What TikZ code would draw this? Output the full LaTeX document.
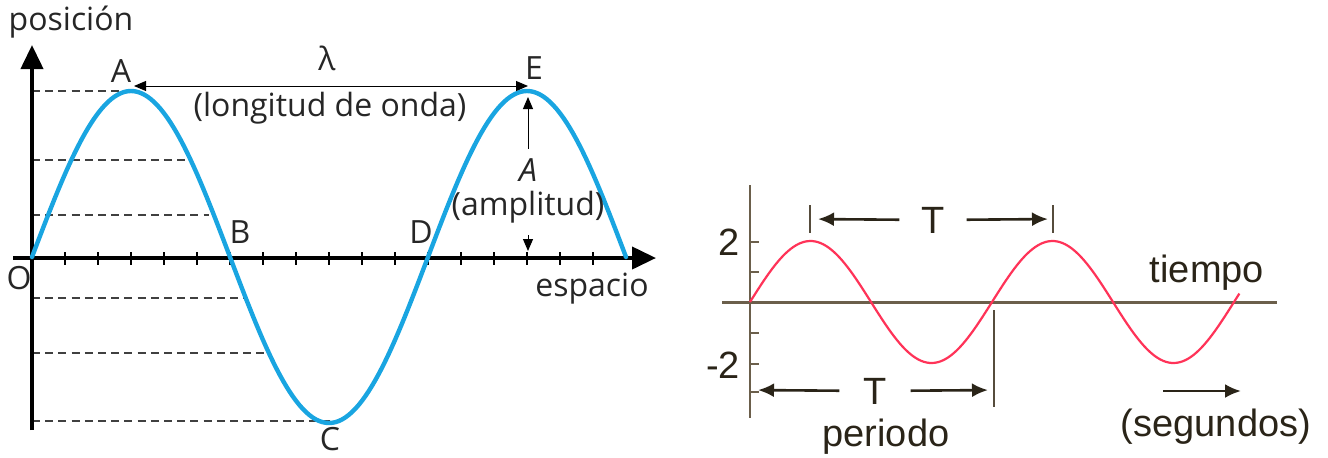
\documentclass[tikz,border=0pt]{standalone}
\usepackage{fontspec}
\setmainfont{Open Sans}
\newfontfamily\graphfont{Liberation Sans}
\usetikzlibrary{arrows.meta,positioning}

\definecolor{waveblue}{HTML}{19A5E1}
\definecolor{wavered}{HTML}{FF3358}
\definecolor{axisbrown}{HTML}{6B5F4B}
\definecolor{textdark}{HTML}{2A2418}

\begin{document}
\begin{tikzpicture}[
  x=0.5pt, y=-0.5pt,
  lbl/.style={font=\fontsize{16}{18}\selectfont, text=black!85, inner sep=0pt},
  rlbl/.style={font=\graphfont\fontsize{19}{21}\selectfont, text=textdark, inner sep=0pt},
  axisline/.style={line width=2pt, -{Triangle[length=12pt,width=11pt]}},
  guide/.style={line width=0.6pt, dash pattern=on 4pt off 2.6pt, black!75},
  dim/.style={line width=0.5pt, -{Triangle[length=6pt,width=5pt]}},
  tarr/.style={line width=1.3pt, textdark, -{Latex[length=8pt,width=7pt]}},
  bar/.style={line width=1pt, axisbrown!80!black}]
\useasboundingbox (0,0) rectangle (1328,457);

\coordinate (orig) at (32,258);
\coordinate (peakA) at (132,91);
\coordinate (peakE) at (528,97);
\coordinate (lamL) at (134,86);
\coordinate (lamR) at (528,86);
\coordinate (axisE) at (528,251);

\foreach \yy/\xx in {91/132, 160/190, 215/209, 298/245, 353/268, 421/330}
  \draw[guide] (32,\yy) -- (\xx,\yy);
\foreach \k in {1,...,17}
  \draw[line width=0.6pt] (32+33*\k,252) -- (32+33*\k,265);
\draw[axisline] (32,430) -- (32,45);
\draw[axisline] (13,258) -- (656,258);
\draw[waveblue, line width=2.2pt, line cap=round]
  plot[domain=0:540, samples=181] ({32+\x*1.1},{257-166*sin(\x)});

\node[lbl] (posicion) at (71,22) {posición};
\node[lbl] (espacio) at (592,289) {espacio};
\node[lbl] (O) at (19,278) {O};
\node[lbl] (A) at (121,71) {A};
\node[lbl] (E) at (534,68) {E};
\node[lbl] (B) at (240,232) {B};
\node[lbl] (D) at (421,232) {D};
\node[lbl] (C) at (330,439) {C};
\node[lbl] (lambda) at (327,58) {λ};
\node[lbl] (longitud) at (330,108) {(longitud de onda)};
\node[lbl, font=\fontsize{16}{18}\selectfont\itshape, outer sep=5pt] (amp) at (528,170) {A};
\node[lbl, outer sep=6pt] (amplitud) at (528,207) {(amplitud)};
\draw[dim, {Triangle[length=6pt,width=5pt]}-{Triangle[length=6pt,width=5pt]}] (lamL) -- (lamR);
\draw[dim] (amp.north) -- (peakE);
\draw[dim] (amplitud.south) -- (axisE);

\coordinate (tl) at (810,219);
\coordinate (tr) at (1053,219);
\coordinate (bl) at (750,390);
\coordinate (br) at (994,390);
\coordinate (s0) at (1163,391);
\coordinate (s1) at (1241,391);

\draw[axisbrown, line width=1.5pt] (722,302) -- (1277,302);
\draw[axisbrown, line width=1.2pt] (750,185) -- (750,418);
\foreach \yy in {242,272,333,364,392}
  \draw[axisbrown, line width=1pt] (750,\yy) -- (759,\yy);
\draw[wavered, line width=1.1pt]
  plot[domain=0:728, samples=181] ({750+0.67222*\x},{302-61*sin(\x)});

\draw[bar] (tl) ++(0,-14) -- ++(0,28);
\draw[bar] (tr) ++(0,-14) -- ++(0,28);
\draw[bar] (br) ++(0,-80) -- ++(0,97);

\node[rlbl] (two) at (729,242) {2};
\node[rlbl] (mtwo) at (723,365) {-2};
\node[rlbl, outer sep=11pt] (Ttop) at (933,220) {T};
\node[rlbl, outer sep=12pt] (Tbot) at (875,391) {T};
\node[rlbl] (periodo) at (886,437) {periodo};
\node[rlbl] (tiempo) at (1207,273) {tiempo};
\node[rlbl] (segundos) at (1216,427) {(segundos)};
\draw[tarr, shorten >=4pt] (Ttop) -- (tl);
\draw[tarr, shorten >=2.5pt] (Ttop) -- (tr);
\draw[tarr, shorten >=4pt] (Tbot) -- (bl);
\draw[tarr, shorten >=3pt] (Tbot) -- (br);
\draw[tarr] (s0) -- (s1);
\end{tikzpicture}
\end{document}
